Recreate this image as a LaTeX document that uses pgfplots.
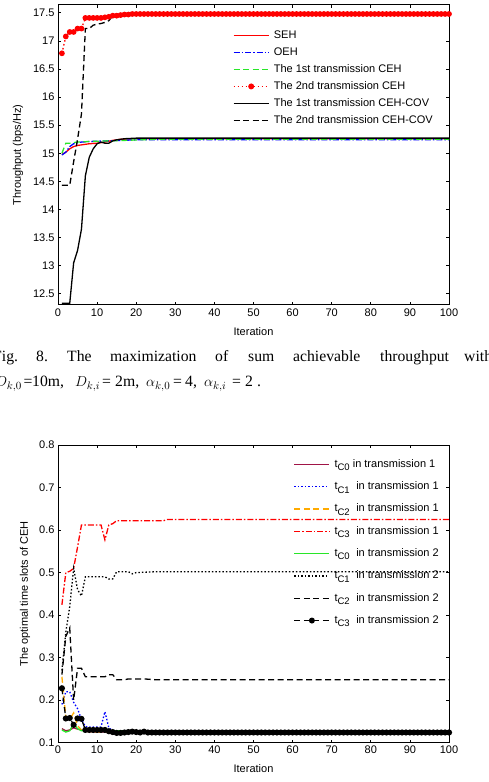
\documentclass[border=0pt]{standalone}
\usepackage{pgfplots}
\pgfplotsset{compat=1.18}
\usepackage{fontspec}
\setmainfont{Liberation Sans}
\newfontfamily\capfont{Liberation Serif}
\definecolor{maroon}{RGB}{160,20,70}
\definecolor{morange}{RGB}{255,170,0}
\definecolor{mgreen}{RGB}{40,230,40}
\newcommand{\tc}[1]{t\raisebox{-3.5pt}{\fontsize{9.5}{10}\selectfont C#1}}
\newcommand{\capf}{\capfont\fontsize{15.7}{18}\selectfont}
\tikzset{
  sA/.style={color=red, line width=1.3pt, solid},
  sB/.style={color=blue, line width=1.3pt, dash pattern=on 6pt off 2pt on 1.5pt off 2pt},
  sC/.style={color=mgreen, line width=1.3pt, dash pattern=on 6pt off 3.5pt},
  sD/.style={color=red, line width=1.3pt, dash pattern=on 1.5pt off 2.5pt},
  sE/.style={color=black, line width=1.3pt, solid},
  sF/.style={color=black, line width=1.3pt, dash pattern=on 6pt off 3.5pt},
  bA/.style={color=maroon, line width=1.3pt, solid},
  bB/.style={color=blue, line width=1.3pt, dash pattern=on 1.5pt off 2pt},
  bC/.style={color=morange, line width=1.3pt, dash pattern=on 6pt off 3.5pt},
  bD/.style={color=red, line width=1.3pt, dash pattern=on 6pt off 2pt on 1.5pt off 2pt},
  bE/.style={color=mgreen, line width=1.3pt, solid},
  bF/.style={color=black, line width=1.3pt, dash pattern=on 1.5pt off 2pt},
  bG/.style={color=black, line width=1.3pt, dash pattern=on 6pt off 3.5pt},
  bH/.style={color=black, line width=1.3pt, dash pattern=on 6pt off 3.5pt},
}
\pgfplotsset{
  limg/.style={legend image code/.code={\draw[#1] (0pt,0pt) -- (35pt,0pt); \path (39.5pt,0pt);}},
  limgm/.style={legend image code/.code={\draw[#1] (0pt,0pt) -- (35pt,0pt); \path (39.5pt,0pt); \fill[#1, solid] (17.5pt,0pt) circle (2.3pt);}},
  myaxis/.style={
    scale only axis, width=391pt, xmin=0, xmax=100,
    xtick={0,10,...,100},
    tick align=inside, major tick length=3pt,
    axis line style={line width=1pt},
    every tick/.style={black, line width=0.8pt},
    /pgf/number format/assume math mode=true,
    tick label style={font=\fontsize{11}{13}\selectfont},
    label style={font=\fontsize{11}{13}\selectfont},
    legend cell align=left,
  }
}
\begin{document}
\begin{tikzpicture}
\path[use as bounding box] (0,0) rectangle (488pt,782pt);
% ---------------- top axis ----------------
\begin{axis}[myaxis,
  at={(58pt,477pt)}, anchor=south west, height=300pt,
  ymin=12.3, ymax=17.64,
  ytick={12.5,13,...,17.5},
  xlabel={Iteration}, ylabel={Throughput (bps/Hz)},
  xlabel style={at={(axis description cs:0.5,-0.09)}, anchor=center},
  ylabel style={at={(axis description cs:-0.1023,0.5)}, anchor=center},
  legend style={at={(1,1)}, anchor=north east, xshift=-16pt, yshift=-25pt,
    draw=none, fill=none, inner sep=0pt, font=\fontsize{11}{13}\selectfont,
    row sep=6.5pt, nodes={inner sep=0pt, text height=8pt, text depth=2.5pt}},
]
\addplot[sA, limg={sA}] coordinates {(1,14.98)(2,15.02)(3,15.08)(4,15.12)(5,15.14)(6,15.15)(7,15.16)(8,15.17)(10,15.18)(12,15.2)(14,15.23)(16,15.25)(20,15.26)(100,15.26)};
\addlegendentry{SEH}
\addplot[sB, limg={sB}] coordinates {(1,14.97)(2,15.02)(3,15.12)(4,15.17)(5,15.19)(6,15.2)(8,15.21)(12,15.22)(20,15.24)(100,15.24)};
\addlegendentry{OEH}
\addplot[sC, limg={sC}] coordinates {(1,15.0)(2,15.18)(3,15.18)(4,15.19)(5,15.2)(8,15.21)(12,15.22)(17,15.23)(25,15.25)(100,15.25)};
\addlegendentry{The 1st transmission CEH}
\addplot[sD, mark=*, mark size=2.2pt, mark options={solid, fill=red}, limgm={sD}] table {
x y
1 16.78
2 17.08
3 17.16
4 17.16
5 17.22
6 17.22
7 17.41
8 17.41
9 17.41
10 17.41
11 17.41
12 17.42
13 17.43
14 17.45
15 17.45
16 17.46
17 17.47
18 17.47
19 17.48
20 17.48
21 17.48
22 17.48
23 17.48
24 17.48
25 17.48
26 17.48
27 17.48
28 17.48
29 17.48
30 17.48
31 17.48
32 17.48
33 17.48
34 17.48
35 17.48
36 17.48
37 17.48
38 17.48
39 17.48
40 17.48
41 17.48
42 17.48
43 17.48
44 17.48
45 17.48
46 17.48
47 17.48
48 17.48
49 17.48
50 17.48
51 17.48
52 17.48
53 17.48
54 17.48
55 17.48
56 17.48
57 17.48
58 17.48
59 17.48
60 17.48
61 17.48
62 17.48
63 17.48
64 17.48
65 17.48
66 17.48
67 17.48
68 17.48
69 17.48
70 17.48
71 17.48
72 17.48
73 17.48
74 17.48
75 17.48
76 17.48
77 17.48
78 17.48
79 17.48
80 17.48
81 17.48
82 17.48
83 17.48
84 17.48
85 17.48
86 17.48
87 17.48
88 17.48
89 17.48
90 17.48
91 17.48
92 17.48
93 17.48
94 17.48
95 17.48
96 17.48
97 17.48
98 17.48
99 17.48
100 17.48
};
\addlegendentry{The 2nd transmission CEH}
\addplot[sE, limg={sE}] coordinates {(1,12.33)(2,12.33)(3,12.33)(4,13.05)(5,13.27)(6,13.65)(7,14.6)(8,14.93)(9,15.08)(10,15.17)(11,15.2)(12,15.18)(13,15.18)(14,15.22)(15,15.24)(17,15.26)(20,15.27)(100,15.27)};
\addlegendentry{The 1st transmission CEH-COV}
\addplot[sF, limg={sF}] coordinates {(1,14.43)(2,14.43)(3,14.43)(4,14.85)(5,15.25)(6,15.7)(7,17.22)(8,17.22)(9,17.28)(10,17.3)(11,17.31)(12,17.33)(13,17.36)(14,17.45)(15,17.46)(16,17.47)(17,17.48)(100,17.49)};
\addlegendentry{The 2nd transmission CEH-COV}
\end{axis}
% ---------------- caption ----------------
\begin{scope}[every node/.style={anchor=base west, inner sep=0pt, font=\capf}]
\node at (-7pt,420.5pt) {Fig.};
\node at (36pt,420.5pt) {8.};
\node at (67pt,420.5pt) {The};
\node at (110pt,420.5pt) {maximization};
\node at (215pt,420.5pt) {of};
\node at (248pt,420.5pt) {sum};
\node at (293pt,420.5pt) {achievable};
\node at (380pt,420.5pt) {throughput};
\node at (464pt,420.5pt) {with};
\node at (-5pt,395.5pt) {$D_{k,0}$};
\node at (23.5pt,395.5pt) {=};
\node at (32pt,395.5pt) {10m,};
\node at (75pt,395.5pt) {$D_{k,i}$};
\node at (102pt,395.5pt) {=};
\node at (115pt,395.5pt) {2m,};
\node at (146pt,395.5pt) {$\alpha_{k,0}$};
\node at (173pt,395.5pt) {=};
\node at (185pt,395.5pt) {4,};
\node at (204pt,395.5pt) {$\alpha_{k,i}$};
\node at (232pt,395.5pt) {=};
\node at (245pt,395.5pt) {2};
\node at (257pt,395.5pt) {.};
\end{scope}
% ---------------- bottom axis ----------------
\begin{axis}[myaxis,
  at={(58pt,39.3pt)}, anchor=south west, height=297.7pt,
  ymin=0.1, ymax=0.8,
  ytick={0.1,0.2,...,0.8},
  yticklabel style={/pgf/number format/fixed, /pgf/number format/precision=1},
  xlabel={Iteration}, ylabel={The optimal time slots of CEH},
  xlabel style={at={(axis description cs:0.5,-0.086)}, anchor=center},
  ylabel style={at={(axis description cs:-0.0844,0.5)}, anchor=center},
  legend style={at={(1,1)}, anchor=north east, xshift=-10pt, yshift=-14pt,
    draw=none, fill=none, inner sep=0pt, font=\fontsize{11}{13}\selectfont,
    row sep=11.8pt, nodes={inner sep=0pt, text height=8pt, text depth=2.5pt}},
]
\addplot[bA, limg={bA}] coordinates {(1,0.133)(2,0.128)(3,0.13)(4,0.135)(5,0.132)(6,0.13)(7,0.127)(8,0.126)(10,0.125)(100,0.125)};
\addlegendentry{\tc{0} in transmission 1}
\addplot[bB, limg={bB}] coordinates {(1,0.19)(2,0.22)(3,0.22)(4,0.195)(5,0.18)(6,0.155)(7,0.138)(8,0.137)(11,0.137)(12,0.173)(13,0.135)(14,0.128)(15,0.126)(20,0.125)(100,0.125)};
\addlegendentry{\tc{1}\hspace{6.5pt}in transmission 1}
\addplot[bC, limg={bC}] coordinates {(1,0.255)(2,0.16)(3,0.155)(4,0.17)(5,0.14)(6,0.13)(7,0.127)(10,0.125)(100,0.125)};
\addlegendentry{\tc{2}\hspace{6.5pt}in transmission 1}
\addplot[bD, limg={bD}] coordinates {(1,0.424)(2,0.5)(3,0.503)(4,0.51)(5,0.56)(6,0.612)(11,0.612)(12,0.577)(13,0.612)(14,0.615)(15,0.622)(27,0.622)(28,0.625)(100,0.625)};
\addlegendentry{\tc{3}\hspace{6.5pt}in transmission 1}
\addplot[bE, limg={bE}] coordinates {(1,0.13)(2,0.125)(3,0.128)(4,0.145)(5,0.133)(6,0.128)(17,0.128)(18,0.126)(20,0.125)(100,0.125)};
\addlegendentry{\tc{0}\hspace{6.5pt}in transmission 2}
\addplot[bF, limg={bF}] coordinates {(1,0.27)(2,0.36)(3,0.42)(4,0.51)(5,0.46)(6,0.445)(7,0.49)(12,0.49)(13,0.485)(14,0.485)(15,0.502)(18,0.502)(19,0.497)(20,0.5)(25,0.502)(100,0.502)};
\addlegendentry{\tc{1}\hspace{6.5pt}in transmission 2}
\addplot[bG, limg={bG}] coordinates {(1,0.26)(2,0.35)(3,0.37)(4,0.2)(5,0.275)(6,0.275)(7,0.255)(12,0.255)(13,0.26)(14,0.26)(15,0.248)(17,0.248)(18,0.25)(22,0.25)(25,0.248)(100,0.248)};
\addlegendentry{\tc{2}\hspace{6.5pt}in transmission 2}
\addplot[bH, mark=*, mark size=2.4pt, mark options={solid, fill=black}, limgm={bH}] table {
x y
1 0.228
2 0.157
3 0.158
4 0.142
5 0.157
6 0.156
7 0.130
8 0.130
9 0.130
10 0.130
11 0.130
12 0.130
13 0.127
14 0.125
15 0.123
16 0.123
17 0.124
18 0.125
19 0.126
20 0.125
21 0.124
22 0.126
23 0.124
24 0.124
25 0.124
26 0.124
27 0.124
28 0.124
29 0.124
30 0.124
31 0.124
32 0.124
33 0.124
34 0.124
35 0.124
36 0.124
37 0.124
38 0.124
39 0.124
40 0.124
41 0.124
42 0.124
43 0.124
44 0.124
45 0.124
46 0.124
47 0.124
48 0.124
49 0.124
50 0.124
51 0.124
52 0.124
53 0.124
54 0.124
55 0.124
56 0.124
57 0.124
58 0.124
59 0.124
60 0.124
61 0.124
62 0.124
63 0.124
64 0.124
65 0.124
66 0.124
67 0.124
68 0.124
69 0.124
70 0.124
71 0.124
72 0.124
73 0.124
74 0.124
75 0.124
76 0.124
77 0.124
78 0.124
79 0.124
80 0.124
81 0.124
82 0.124
83 0.124
84 0.124
85 0.124
86 0.124
87 0.124
88 0.124
89 0.124
90 0.124
91 0.124
92 0.124
93 0.124
94 0.124
95 0.124
96 0.124
97 0.124
98 0.124
99 0.124
100 0.124
};
\addlegendentry{\tc{3}\hspace{6.5pt}in transmission 2}
\end{axis}
\end{tikzpicture}
\end{document}
